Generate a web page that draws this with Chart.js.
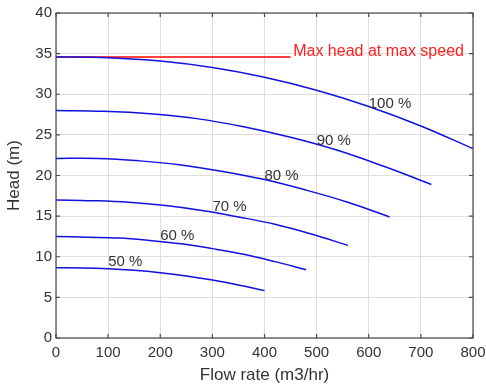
<!DOCTYPE html>
<html>
<head>
<meta charset="utf-8">
<script src="https://cdn.jsdelivr.net/npm/chart.js@4"></script>
<style>
  html, body { margin: 0; padding: 0; background: #fff; }
</style>
</head>
<body>
<canvas id="chart" width="486" height="391"></canvas>
<script>
// pump curves, flow (m3/hr) and head (m)
const flow100 = [0, 100, 200, 300, 400, 500, 600, 700, 800];
const head100 = [34.6, 34.5, 34.1, 33.3, 32.1, 30.5, 28.5, 26.1, 23.3];
const flow90 = [0, 90, 180, 270, 360, 450, 540, 630, 720];
const head90 = [28.0, 27.9, 27.6, 27.0, 26.0, 24.7, 23.1, 21.1, 18.9];
const flow80 = [0, 80, 160, 240, 320, 400, 480, 560, 640];
const head80 = [22.1, 22.1, 21.8, 21.3, 20.5, 19.5, 18.2, 16.7, 14.9];
const flow70 = [0, 70, 140, 210, 280, 350, 420, 490, 560];
const head70 = [17.0, 16.9, 16.7, 16.3, 15.7, 14.9, 14.0, 12.8, 11.4];
const flow60 = [0, 60, 120, 180, 240, 300, 360, 420, 480];
const head60 = [12.5, 12.4, 12.3, 12.0, 11.6, 11.0, 10.3, 9.4, 8.4];
const flow50 = [0, 50, 100, 150, 200, 250, 300, 350, 400];
const head50 = [8.65, 8.63, 8.53, 8.33, 8.03, 7.63, 7.13, 6.53, 5.83];

const maxFlow = [0, 450];
const maxHead = [34.6, 34.6];
const maxText = 'Max head at max speed';
const maxTextAt = [455, 35.2];

const speedLabels = ['100 %', '90 %', '80 %', '70 %', '60 %', '50 %'];
const labelFlow = [600, 500, 400, 300, 200, 100];
const labelHead = [28.8, 24.3, 20.0, 16.1, 12.6, 9.4];

const FONT = '"Liberation Sans", Arial, Helvetica, sans-serif';

function pts(xs, ys) {
    return xs.map((v, i) => ({ x: v, y: ys[i] }));
}

function curve(xs, ys, color) {
    return {
        data: pts(xs, ys),
        borderColor: color,
        borderWidth: 1.5,
        pointRadius: 0,
        fill: false,
        tension: 0.4
    };
}

const boxPlugin = {
    id: 'box',
    afterDatasetsDraw(chart) {
        const { ctx, chartArea: a, scales: { x, y } } = chart;
        ctx.save();
        ctx.strokeStyle = '#4a4a4a';
        ctx.lineWidth = 1.2;
        ctx.beginPath();
        x.ticks.forEach(t => {
            const px = x.getPixelForValue(t.value);
            ctx.moveTo(px, a.bottom); ctx.lineTo(px, a.bottom - 4);
            ctx.moveTo(px, a.top); ctx.lineTo(px, a.top + 4);
        });
        y.ticks.forEach(t => {
            const py = y.getPixelForValue(t.value);
            ctx.moveTo(a.left, py); ctx.lineTo(a.left + 4, py);
            ctx.moveTo(a.right, py); ctx.lineTo(a.right - 4, py);
        });
        ctx.stroke();
        ctx.strokeRect(a.left, a.top, a.right - a.left, a.bottom - a.top);

        ctx.textAlign = 'left';
        ctx.textBaseline = 'middle';
        ctx.font = '15px ' + FONT;
        ctx.fillStyle = '#333';
        speedLabels.forEach((s, i) => {
            ctx.fillText(s, x.getPixelForValue(labelFlow[i]), y.getPixelForValue(labelHead[i]));
        });
        ctx.font = '16px ' + FONT;
        ctx.fillStyle = '#ff2020';
        ctx.fillText(maxText, x.getPixelForValue(maxTextAt[0]), y.getPixelForValue(maxTextAt[1]));
        ctx.restore();
    }
};

new Chart(document.getElementById('chart'), {
    type: 'line',
    data: {
        datasets: [
            curve(flow100, head100, '#1010e0'),
            curve(flow90, head90, '#1010e0'),
            curve(flow80, head80, '#1010e0'),
            curve(flow70, head70, '#1010e0'),
            curve(flow60, head60, '#1010e0'),
            curve(flow50, head50, '#1010e0'),
            curve(maxFlow, maxHead, '#ff0000')
        ]
    },
    options: {
        responsive: false,
        animation: false,
        layout: { padding: { left: 0, right: 13, top: 13, bottom: 0 } },
        plugins: {
            legend: { display: false },
            tooltip: { enabled: false }
        },
        scales: {
            x: {
                type: 'linear',
                min: 0, max: 800,
                ticks: { stepSize: 100, color: '#333', padding: 6, font: { family: FONT, size: 15 } },
                grid: { color: '#dedede', drawTicks: false },
                border: { display: false },
                title: { display: true, text: 'Flow rate (m3/hr)', color: '#333', padding: { top: 0, bottom: 5 }, font: { family: FONT, size: 17 } },
                afterFit(s) { s.height = 53; s.paddingLeft = 0; s.paddingRight = 0; }
            },
            y: {
                min: 0, max: 40,
                ticks: { stepSize: 5, color: '#333', padding: 4, font: { family: FONT, size: 15 } },
                grid: { color: '#dedede', drawTicks: false },
                border: { display: false },
                title: { display: true, text: 'Head (m)', color: '#333', padding: { top: 4, bottom: 0 }, font: { family: FONT, size: 17 } },
                afterFit(s) { s.width = 56; s.paddingTop = 0; s.paddingBottom = 0; }
            }
        }
    },
    plugins: [boxPlugin]
});
</script>
</body>
</html>
